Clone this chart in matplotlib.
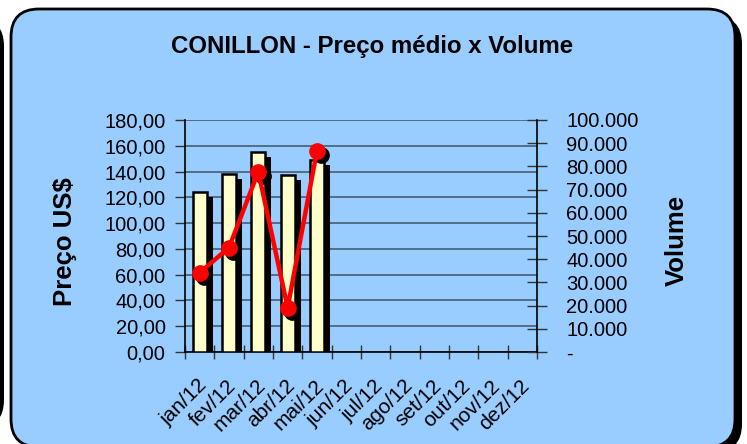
import numpy as np
import matplotlib
matplotlib.use('Agg')
import matplotlib.pyplot as plt
from matplotlib.patches import FancyBboxPatch
from matplotlib.ticker import FuncFormatter, MultipleLocator, FixedLocator
from matplotlib.transforms import ScaledTranslation
import matplotlib.patheffects as pe

plt.rcParams['font.family'] = ['Liberation Sans', 'DejaVu Sans']

#data
meses = ['jan/12', 'fev/12', 'mar/12', 'abr/12', 'mai/12', 'jun/12',
         'jul/12', 'ago/12', 'set/12', 'out/12', 'nov/12', 'dez/12']
preco = [124.0, 138.0, 155.0, 137.0, 149.0]          # US$ (bars, left axis)
volume = [34200, 45000, 77700, 19100, 86800]        # sacas (line, right axis)

W, H = 747, 444
fig = plt.figure(figsize=(W/100, H/100), dpi=100)
fig.patch.set_facecolor('white')

#background box with shadow (pixel coords, origin bottom left)
def px_box(x0, y0_img, x1, y1_img, **kw):
    p = FancyBboxPatch((x0, H - y1_img), x1 - x0, y1_img - y0_img,
                       boxstyle='round,pad=0,rounding_size=28',
                       transform=None, zorder=-10, **kw)
    fig.add_artist(p)
    return p

px_box(-60, 18, 4, 428, facecolor='black', edgecolor='none')
px_box(18, 16, 742, 452, facecolor='black', edgecolor='none')
px_box(11, 9, 735, 447, facecolor='#99CCFF', edgecolor='black', linewidth=2)

#axes
ax = fig.add_axes([185/W, 1 - 352/H, (537 - 185)/W, (352 - 120)/H])
ax.set_facecolor('none')
ax2 = ax.twinx()

x = np.arange(len(preco))
bars = ax.bar(x, preco, width=0.48, color='#FFFFCC', edgecolor='black',
              linewidth=1.8, zorder=3)
for b in bars:
    b.set_path_effects([pe.SimplePatchShadow(offset=(4.3, -3.6), shadow_rgbFace='black', alpha=1),
                        pe.Normal()])

#marker shadows
shadow = ax2.transData + ScaledTranslation(3/72, -3/72, fig.dpi_scale_trans)
ax2.plot(x, volume, linestyle='none', marker='o', markersize=11,
         color='black', zorder=2, transform=shadow)
ax2.plot(x, volume, color='#FF0000', linewidth=3.2, zorder=3)
ax2.plot(x, volume, linestyle='none', marker='o', markersize=11,
         color='#FF0000', zorder=4)

ax.set_xlim(-0.5, len(meses) - 0.5)
ax.set_ylim(0, 180)
ax2.set_ylim(0, 100000)

ax.yaxis.set_major_locator(MultipleLocator(20))
ax.yaxis.set_major_formatter(FuncFormatter(lambda v, p: f'{v:.2f}'.replace('.', ',')))
ax2.yaxis.set_major_locator(MultipleLocator(10000))
ax2.yaxis.set_major_formatter(FuncFormatter(
    lambda v, p: '-' if v == 0 else f'{int(round(v)):,}'.replace(',', '.')))

ax.set_xticks(np.arange(len(meses)))
ax.set_xticklabels(meses, rotation=45, ha='right', va='center', rotation_mode='anchor')
ax.xaxis.set_minor_locator(FixedLocator(np.arange(len(meses) + 1) - 0.5))
ax.tick_params(axis='x', which='major', length=0, pad=22, labelsize=15)
ax.tick_params(axis='x', which='minor', length=10, direction='inout', color='#333333', width=1)
shift = ScaledTranslation(4/100, 0, fig.dpi_scale_trans)
for lbl in ax.get_xticklabels():
    lbl.set_transform(lbl.get_transform() + shift)

ax.tick_params(axis='y', length=7, direction='out', width=1, color='#333333', labelsize=14.5, pad=7)
ax2.tick_params(axis='y', length=14, direction='inout', width=1, color='#333333', labelsize=14.5, pad=14)

ax.yaxis.grid(True, color='#4d6680', linewidth=1.3, zorder=0)
ax.set_axisbelow(True)

for a in (ax, ax2):
    a.spines['top'].set_visible(False)
ax2.spines['left'].set_visible(False)
ax2.spines['bottom'].set_visible(False)
ax.spines['right'].set_visible(False)
ax.spines['left'].set_linewidth(1.2)
ax.spines['bottom'].set_linewidth(1.2)
ax2.spines['right'].set_linewidth(1.2)

#texts
fig.text(372/W, 1 - 46/H, 'CONILLON - Preço médio x Volume', ha='center', va='center',
         fontsize=17.3, fontweight='bold')
fig.text(65/W, 1 - 242/H, 'Preço US$', rotation=90, ha='center', va='center',
         fontsize=18.5, fontweight='bold')
fig.text(677/W, 1 - 240/H, 'Volume', rotation=90, ha='center', va='center',
         fontsize=18.5, fontweight='bold')

fig.savefig('out.png', dpi=100)
